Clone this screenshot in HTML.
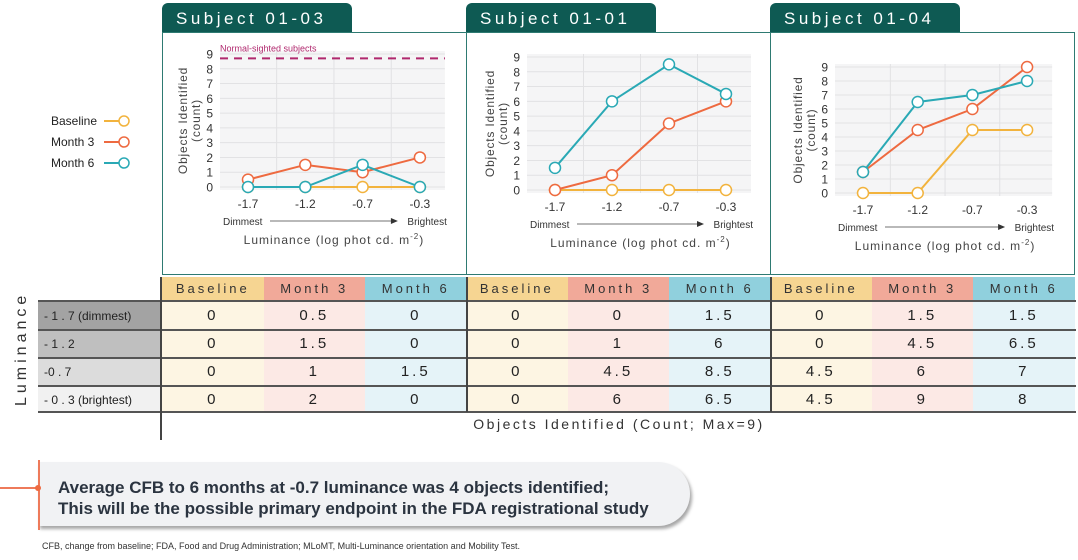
<!DOCTYPE html>
<html><head><meta charset="utf-8">
<style>
body{margin:0;width:1078px;height:560px;background:#fff;font-family:"Liberation Sans",sans-serif;position:relative;overflow:hidden}
.abs{position:absolute}
.tab{position:absolute;top:3px;height:30px;width:190px;background:#0e5a53;color:#fff;font-size:17px;letter-spacing:3.5px;line-height:31px;padding-left:14px;box-sizing:border-box;border-radius:6px 6px 0 0}
.panel{position:absolute;top:32px;height:243px;border:1.5px solid #2e7a72;box-sizing:border-box}
.cell{position:absolute;text-align:center;font-size:15px;letter-spacing:3px;color:#222;line-height:28px}
.hdr{position:absolute;text-align:center;font-size:13px;letter-spacing:3px;color:#333;line-height:23px;top:277px;height:23px}
.rl{position:absolute;left:38px;width:122px;font-size:12px;color:#222;padding-left:6px;box-sizing:border-box;line-height:28px}
</style></head><body>
<div class="tab" style="left:162px">Subject 01-03</div>
<div class="tab" style="left:466px">Subject 01-01</div>
<div class="tab" style="left:770px">Subject 01-04</div>
<div class="panel" style="left:162px;width:305px"></div>
<div class="panel" style="left:466px;width:305px"></div>
<div class="panel" style="left:770px;width:305px"></div>
<svg id="charts" class="abs" style="left:0;top:0" width="1078" height="280"></svg>
<div id="table"></div>
<div class="abs" style="left:2px;top:300px;width:40px;height:110px">
<div style="position:absolute;left:-35px;top:42px;width:110px;transform:rotate(-90deg);text-align:center;font-size:16px;letter-spacing:4px;color:#333">Luminance</div></div>
<div class="abs" style="left:160px;top:277px;width:1.5px;height:163px;background:#444"></div>
<div class="abs" style="left:162px;top:416px;width:914px;text-align:center;font-size:14px;letter-spacing:2.5px;color:#333">Objects Identified (Count; Max=9)</div>
<div class="abs" style="left:38px;top:462px;width:652px;height:64px;background:#f1f2f4;border-radius:0 32px 32px 0;box-shadow:2px 3px 3px rgba(0,0,0,.35)">
<div style="position:absolute;left:20px;top:15px;font-size:17px;font-weight:bold;color:#2b3440;line-height:21px">Average CFB to 6 months at -0.7 luminance was 4 objects identified;<br>This will be the possible primary endpoint in the FDA registrational study</div></div>
<div class="abs" style="left:38px;top:460px;width:1.5px;height:70px;background:#ee7a5a"></div>
<div class="abs" style="left:0;top:487px;width:38px;height:1.5px;background:#ee7a5a"></div>
<div class="abs" style="left:35px;top:485px;width:6px;height:6px;border-radius:50%;background:#ee6a40"></div>
<div class="abs" style="left:42px;top:541px;font-size:9px;color:#333">CFB, change from baseline; FDA, Food and Drug Administration; MLoMT, Multi-Luminance orientation and Mobility Test.</div>
<script>
const xLabels=["-1.7","-1.2","-0.7","-0.3"];
const yTicks=[0,1,2,3,4,5,6,7,8,9];
const seriesNames=["Baseline","Month 3","Month 6"];
const s0103Baseline=[0,0,0,0];
const s0103Month3=[0.5,1.5,1,2];
const s0103Month6=[0,0,1.5,0];
const s0101Baseline=[0,0,0,0];
const s0101Month3=[0,1,4.5,6];
const s0101Month6=[1.5,6,8.5,6.5];
const s0104Baseline=[0,0,4.5,4.5];
const s0104Month3=[1.5,4.5,6,9];
const s0104Month6=[1.5,6.5,7,8];
const normalSighted=8.7;
const rowLabels=["- 1 . 7 (dimmest)","- 1 . 2","-0 . 7","- 0 . 3 (brightest)"];
const colors=["#f2b33d","#ee6a40","#2aa9b5"];
const NS="http://www.w3.org/2000/svg";
const svg=document.getElementById('charts');
function mk(tag,attrs,parent){const e=document.createElementNS(NS,tag);for(const k in attrs)e.setAttribute(k,attrs[k]);(parent||svg).appendChild(e);return e;}
const panels=[
 {id:"01-03",x0:248,dx:57.3,y0:187,y9:54,data:[s0103Baseline,s0103Month3,s0103Month6],ns:true},
 {id:"01-01",x0:555,dx:57,y0:190,y9:57,data:[s0101Baseline,s0101Month3,s0101Month6]},
 {id:"01-04",x0:863,dx:54.7,y0:193,y9:67,data:[s0104Baseline,s0104Month3,s0104Month6]}];
panels.forEach(p=>{
 const g=mk('g',{});
 
 
 const X=i=>p.x0+i*p.dx, Y=v=>p.y0-(v/9)*(p.y0-p.y9);
 const left=X(0)-28,right=X(3)+25;
 mk('rect',{x:left,y:Y(9)-3,width:right-left,height:Y(0)-Y(9)+6,fill:'#f5f5f6'},g);
 yTicks.forEach(t=>{mk('line',{x1:left,x2:right,y1:Y(t),y2:Y(t),stroke:'#e2e2e4','stroke-width':1},g);
  const tx=mk('text',{x:left-7,y:Y(t)+4.5,'font-size':12,'text-anchor':'end',fill:'#333'},g);tx.textContent=t;});
 for(let i=0;i<3;i++){const xm=(X(i)+X(i+1))/2;mk('line',{x1:xm,x2:xm,y1:Y(9)-3,y2:Y(0)+3,stroke:'#e2e2e4'},g);}
 xLabels.forEach((l,i)=>{const t=mk('text',{x:X(i),y:Y(0)+21,'font-size':12,'text-anchor':'middle',fill:'#333'},g);t.textContent=l;});
 const yt=mk('text',{transform:`translate(${left-27},${(Y(0)+Y(9))/2}) rotate(-90)`,'font-size':12,'text-anchor':'middle',fill:'#444','letter-spacing':'0.8'},g);
 yt.innerHTML='<tspan x="0" dy="-6">Objects Identified</tspan><tspan x="0" dy="13">(count)</tspan>';
 const ay=Y(0)+38;
 let t=mk('text',{x:X(0)-25,y:ay,'font-size':10,fill:'#333'},g);t.textContent='Dimmest';
 t=mk('text',{x:X(3)+27,y:ay,'font-size':10,fill:'#333','text-anchor':'end'},g);t.textContent='Brightest';
 mk('line',{x1:X(0)+22,x2:X(3)-28,y1:ay-4,y2:ay-4,stroke:'#444','stroke-width':0.8},g);
 mk('polygon',{points:`${X(3)-29},${ay-7} ${X(3)-22},${ay-4} ${X(3)-29},${ay-1}`,fill:'#333'},g);
 t=mk('text',{x:(X(0)+X(3))/2,y:ay+19,'font-size':12,fill:'#444','text-anchor':'middle','letter-spacing':'1'},g);
 t.innerHTML='Luminance (log phot cd. m<tspan font-size="8" dy="-5">-2</tspan><tspan dy="5">)</tspan>';
 if(p.ns){mk('line',{x1:left,x2:right,y1:Y(normalSighted),y2:Y(normalSighted),stroke:'#b0286e','stroke-width':2,'stroke-dasharray':'8,6'},g);
  t=mk('text',{x:left,y:Y(normalSighted)-7,'font-size':9,fill:'#b0286e'},g);t.textContent='Normal-sighted subjects';}
 p.data.forEach((arr,si)=>{
  const pl=mk('polyline',{points:arr.map((v,i)=>X(i)+','+Y(v)).join(' '),fill:'none',stroke:colors[si],'stroke-width':2},g);
  
  
  arr.forEach((v,i)=>{const c=mk('circle',{cx:X(i),cy:Y(v),r:5.5,fill:'#fff',stroke:colors[si],'stroke-width':1.5},g);
   
   });
 });
});
seriesNames.forEach((n,i)=>{const y=121+i*21;
 const g=mk('g',{});
 
 
 const t=mk('text',{x:51,y:y+4,'font-size':12,fill:'#222'},g);t.textContent=n;
 mk('line',{x1:104,x2:128,y1:y,y2:y,stroke:colors[i],'stroke-width':2},g);
 mk('circle',{cx:124,cy:y,r:5,fill:'#fff',stroke:colors[i],'stroke-width':1.5},g);});
// table
const tb=document.getElementById('table');
const hdrBg=["#f6d592","#f1a999","#90d0dd"], cellBg=["#fdf5e3","#fce9e5","#e5f3f8"];
const rowBg=["#a3a3a3","#bfbfbf","#dcdcdc","#f1f1f1"];
const rowTops=[302,330,358,386];
const rowH=[28,28,28,25];
panels.forEach((p,pi)=>{p.data.forEach((arr,si)=>{
 const x=162+pi*304+si*101.5;
 const h=document.createElement('div');h.className='hdr';h.style.left=x+'px';h.style.width='101.5px';h.style.background=hdrBg[si];h.textContent=seriesNames[si];
 
 
 tb.appendChild(h);
 arr.forEach((v,ri)=>{const c=document.createElement('div');c.className='cell';
  c.style.cssText+=`left:${x}px;width:101.5px;top:${rowTops[ri]}px;height:${rowH[ri]}px;background:${cellBg[si]}`;
  c.textContent=String(v);
  
  
  tb.appendChild(c);});
});});
rowLabels.forEach((l,ri)=>{const d=document.createElement('div');d.className='rl';
 d.style.cssText+=`top:${rowTops[ri]}px;height:${rowH[ri]}px;background:${rowBg[ri]}`;d.textContent=l;
 
 
 tb.appendChild(d);});
[300,329,357,385,411].forEach(y=>{const d=document.createElement('div');d.className='abs';d.style.cssText=`left:38px;top:${y}px;width:1038px;height:2px;background:#555`;tb.appendChild(d);});
[466,770].forEach(x=>{const d=document.createElement('div');d.className='abs';d.style.cssText=`left:${x}px;top:277px;width:1.5px;height:135px;background:#444`;tb.appendChild(d);});
</script>
</body></html>
